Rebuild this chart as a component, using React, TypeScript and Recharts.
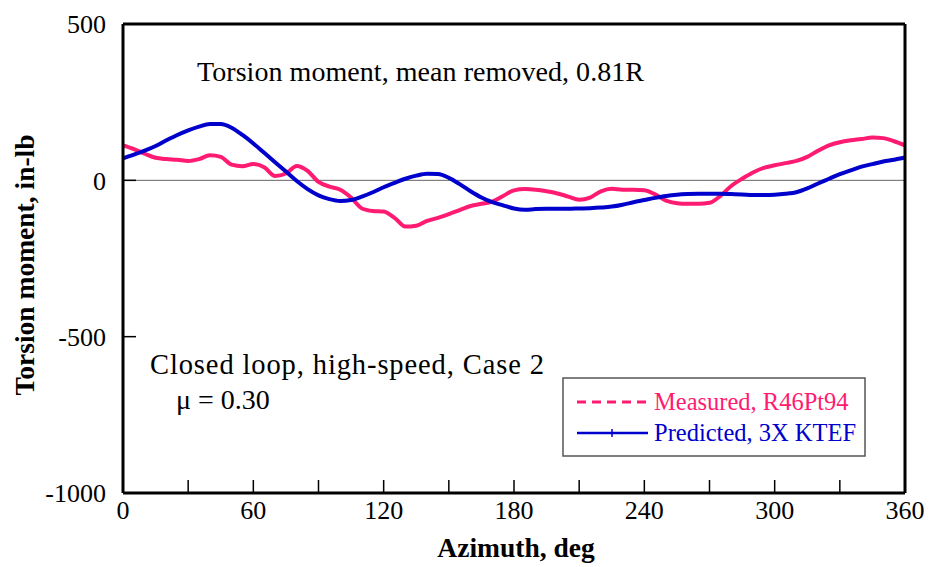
import { LineChart, Line, XAxis, YAxis, ReferenceLine, Customized } from "recharts";

const FONT = "'Liberation Serif', 'Times New Roman', serif";
const PINK = "#ff1a72";
const BLUE = "#0000cc";

const angles = [
  0, 5, 10, 15, 20, 25, 30, 35, 40, 45, 50, 55, 60, 65, 70, 75, 80, 85, 90, 95, 100, 105, 110, 115, 120,
  125, 130, 135, 140, 145, 150, 155, 160, 165, 170, 175, 180, 185, 190, 195, 200, 205, 210, 215, 220, 225,
  230, 235, 240, 245, 250, 255, 260, 265, 270, 275, 280, 285, 290, 295, 300, 305, 310, 315, 320, 325, 330,
  335, 340, 345, 350, 355, 360,
];

const measured = [
  112, 100, 85, 72, 68, 66, 62, 68, 80, 75, 50, 45, 52, 42, 14, 22, 46, 30, -5, -20, -30, -55, -90, -98,
  -100, -120, -148, -145, -130, -120, -108, -95, -82, -75, -68, -50, -32, -28, -30, -35, -42, -52, -62, -55,
  -35, -27, -30, -30, -32, -45, -65, -73, -75, -75, -72, -50, -18, 5, 25, 40, 48, 55, 62, 75, 95, 112, 122,
  128, 132, 137, 135, 125, 112,
];

const predicted = [
  70, 82, 95, 110, 128, 145, 160, 172, 180, 180, 168, 145, 118, 88, 58, 28, -2, -28, -48, -60, -66, -63,
  -52, -38, -22, -8, 5, 15, 21, 20, 8, -12, -35, -55, -70, -80, -90, -94, -92, -91, -91, -91, -90, -89, -87,
  -84, -78, -70, -63, -56, -50, -46, -44, -43, -43, -43, -44, -45, -47, -47, -46, -43, -38, -26, -10, 5, 20,
  32, 44, 52, 60, 66, 73,
];

const xTicks = [0, 30, 60, 90, 120, 150, 180, 210, 240, 270, 300, 330, 360];
const yTicks = [-1000, -500, 0, 500];

const data = angles.map((a, i) => ({ azimuth: a, measured: measured[i], predicted: predicted[i] }));

const XTick = ({ x, y, payload }: any) =>
  payload.value % 60 === 0 ? (
    <text x={x} y={y} textAnchor="middle" fontSize={26} fontFamily={FONT} fill="#000">
      {payload.value}
    </text>
  ) : (
    <g />
  );

const Annotations = () => (
  <g fontFamily={FONT} fill="#000">
    <text x={197} y={81} fontSize={28} textLength={447} lengthAdjust="spacing">
      Torsion moment, mean removed, 0.81R
    </text>
    <text x={150} y={374} fontSize={28.5} textLength={394} lengthAdjust="spacing">
      Closed loop, high-speed, Case 2
    </text>
    <text x={176} y={409} fontSize={28}>μ = 0.30</text>
    <text x={516} y={557} fontSize={27.5} fontWeight="bold" textAnchor="middle">Azimuth, deg</text>
    <text
      x={0}
      y={0}
      fontSize={27.5}
      fontWeight="bold"
      textAnchor="middle"
      transform="translate(34 265) rotate(-90)"
    >
      Torsion moment, in-lb
    </text>
    <g>
      <rect x={563} y={378} width={302} height={78} fill="#fff" stroke="#555" strokeWidth={1.5} />
      <line x1={577} y1={402} x2={648} y2={402} stroke={PINK} strokeWidth={3} strokeDasharray="9 6" />
      <text x={654} y={410} fontSize={24.5} fill={PINK}>Measured, R46Pt94</text>
      <line x1={577} y1={433} x2={648} y2={433} stroke={BLUE} strokeWidth={2.5} />
      <line x1={612} y1={429} x2={612} y2={437} stroke={BLUE} strokeWidth={1.5} />
      <text x={654} y={441} fontSize={24.5} fill={BLUE}>Predicted, 3X KTEF</text>
    </g>
  </g>
);

export default function App() {
  return (
    <div style={{ position: "absolute", left: 0, top: 0, background: "#fff" }}>
      <LineChart width={930} height={567} data={data} margin={{ top: 24, right: 0, bottom: 0, left: 0 }}>
        <XAxis
          dataKey="azimuth"
          type="number"
          domain={[0, 360]}
          ticks={xTicks}
          height={74}
          tickSize={-13}
          tickMargin={39}
          axisLine={{ stroke: "#000", strokeWidth: 3 }}
          tickLine={{ stroke: "#000", strokeWidth: 1.5 }}
          tick={<XTick />}
          interval={0}
        />
        <YAxis
          yAxisId="left"
          type="number"
          domain={[-1000, 500]}
          ticks={yTicks}
          width={123}
          tickSize={-13}
          tickMargin={30}
          axisLine={{ stroke: "#000", strokeWidth: 3 }}
          tickLine={{ stroke: "#000", strokeWidth: 1.5 }}
          tick={{ fontSize: 26, fontFamily: FONT, fill: "#000" }}
          interval={0}
        />
        <YAxis
          yAxisId="right"
          orientation="right"
          type="number"
          domain={[-1000, 500]}
          ticks={yTicks}
          width={25}
          tickSize={-13}
          axisLine={{ stroke: "#000", strokeWidth: 3 }}
          tickLine={{ stroke: "#000", strokeWidth: 1.5 }}
          tick={false}
          interval={0}
        />
        <ReferenceLine yAxisId="left" y={0} stroke="#666" strokeWidth={1} />
        <ReferenceLine yAxisId="left" y={500} stroke="#000" strokeWidth={3} />
        <Line
          yAxisId="left"
          type="monotone"
          dataKey="measured"
          stroke={PINK}
          strokeWidth={4}
          dot={false}
          isAnimationActive={false}
        />
        <Line
          yAxisId="left"
          type="monotone"
          dataKey="predicted"
          stroke={BLUE}
          strokeWidth={4}
          dot={false}
          isAnimationActive={false}
        />
        <Customized component={Annotations} />
      </LineChart>
    </div>
  );
}
